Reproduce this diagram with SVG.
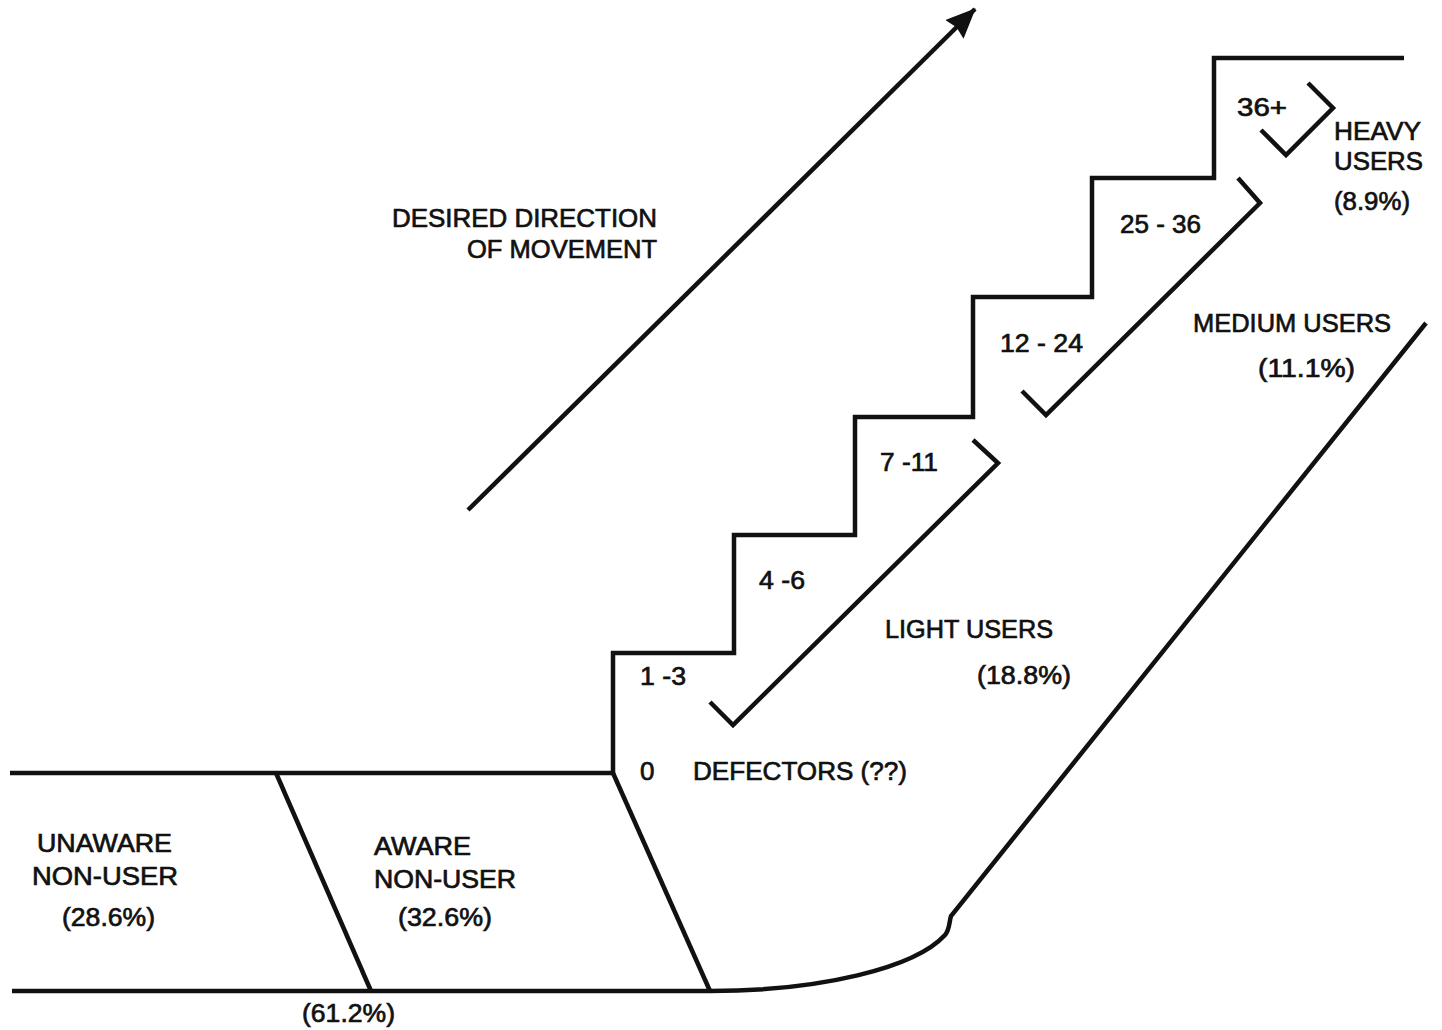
<svg xmlns="http://www.w3.org/2000/svg" width="1442" height="1030" viewBox="0 0 1442 1030">
<style>
.ln{fill:none;stroke:#111;stroke-width:4.5;stroke-linejoin:miter;stroke-linecap:butt}
.t{font-family:"Liberation Sans",Arial,sans-serif;font-size:26px;fill:#111;stroke:#111;stroke-width:0.7px}
</style>
<defs>
<marker id="arrow" viewBox="0 0 30 26" refX="29" refY="13" markerWidth="30" markerHeight="26" markerUnits="userSpaceOnUse" orient="auto">
<path d="M0,0 L30,13 L0,26 L3,13 z" fill="#111"/>
</marker>
</defs>
<rect width="1442" height="1030" fill="#fff"/>
<g id="staircase">
<path class="ln" d="M10,773 H613 V653 H734 V535 H855 V417 H973 V297 H1092 V178 H1214 V58 H1404"/>
<path class="ln" d="M12,991 H710"/>
<path class="ln" d="M276,773 L371,991"/>
<path class="ln" d="M613,773 L710,991"/>
<path class="ln" d="M710,991 C820,991 915,968 945,935 C950,929 949,922 951,916 L1426,323"/>
</g>
<g id="connectors">
<path class="ln" d="M468,510 L975,9" marker-end="url(#arrow)"/>
<path class="ln" d="M710,702 L733,725 L998,463 L973,440"/>
<path class="ln" d="M1022,391 L1046,415 L1260,203 L1238,178"/>
<path class="ln" d="M1261,130 L1286,155 L1333,108 L1308,83"/>
</g>
<g id="direction">
<text class="t" x="392" y="227" textLength="265" lengthAdjust="spacingAndGlyphs">DESIRED DIRECTION</text>
<text class="t" x="467" y="258" textLength="190" lengthAdjust="spacingAndGlyphs">OF MOVEMENT</text>
</g>
<g id="heavy">
<text class="t" x="1237" y="116" textLength="50" lengthAdjust="spacingAndGlyphs">36+</text>
<text class="t" x="1334" y="140" textLength="87" lengthAdjust="spacingAndGlyphs">HEAVY</text>
<text class="t" x="1334" y="170" textLength="89" lengthAdjust="spacingAndGlyphs">USERS</text>
<text class="t" x="1334" y="210" textLength="76" lengthAdjust="spacingAndGlyphs">(8.9%)</text>
</g>
<g id="medium">
<text class="t" x="1120" y="233" textLength="81" lengthAdjust="spacingAndGlyphs">25 - 36</text>
<text class="t" x="1000" y="352" textLength="83" lengthAdjust="spacingAndGlyphs">12 - 24</text>
<text class="t" x="1193" y="332" textLength="198" lengthAdjust="spacingAndGlyphs">MEDIUM USERS</text>
<text class="t" x="1258" y="377" textLength="97" lengthAdjust="spacingAndGlyphs">(11.1%)</text>
</g>
<g id="light">
<text class="t" x="880" y="471" textLength="58" lengthAdjust="spacingAndGlyphs">7 -11</text>
<text class="t" x="759" y="589" textLength="46" lengthAdjust="spacingAndGlyphs">4 -6</text>
<text class="t" x="640" y="685" textLength="46" lengthAdjust="spacingAndGlyphs">1 -3</text>
<text class="t" x="885" y="638" textLength="168" lengthAdjust="spacingAndGlyphs">LIGHT USERS</text>
<text class="t" x="977" y="684" textLength="94" lengthAdjust="spacingAndGlyphs">(18.8%)</text>
</g>
<g id="defectors">
<text class="t" x="640" y="780">0</text>
<text class="t" x="693" y="780" textLength="214" lengthAdjust="spacingAndGlyphs">DEFECTORS  (??)</text>
</g>
<g id="unaware">
<text class="t" x="37" y="852" textLength="135" lengthAdjust="spacingAndGlyphs">UNAWARE</text>
<text class="t" x="32" y="885" textLength="146" lengthAdjust="spacingAndGlyphs">NON-USER</text>
<text class="t" x="62" y="926" textLength="93" lengthAdjust="spacingAndGlyphs">(28.6%)</text>
</g>
<g id="aware">
<text class="t" x="374" y="855" textLength="97" lengthAdjust="spacingAndGlyphs">AWARE</text>
<text class="t" x="374" y="888" textLength="142" lengthAdjust="spacingAndGlyphs">NON-USER</text>
<text class="t" x="398" y="926" textLength="94" lengthAdjust="spacingAndGlyphs">(32.6%)</text>
</g>
<g id="nonusers">
<text class="t" x="302" y="1022" textLength="93" lengthAdjust="spacingAndGlyphs">(61.2%)</text>
</g>
</svg>
